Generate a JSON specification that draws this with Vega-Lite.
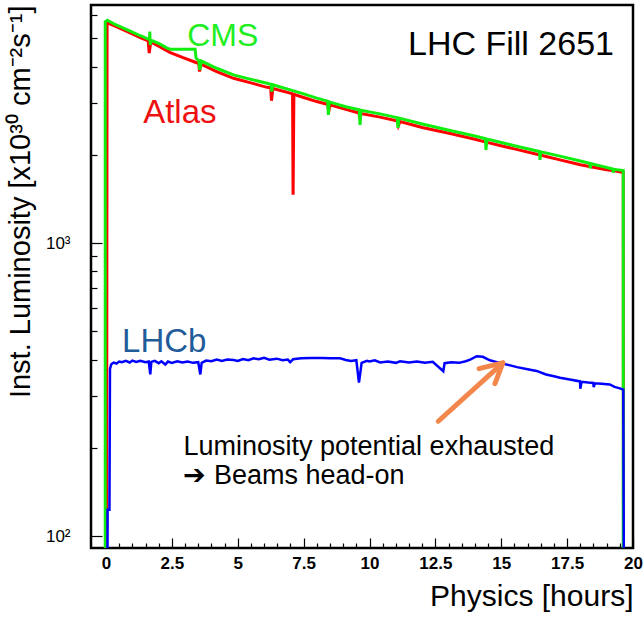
{
  "$schema": "https://vega.github.io/schema/vega-lite/v6.json",
  "width": 542,
  "height": 543,
  "autosize": "none",
  "padding": {"left": 91, "top": 5, "right": 11, "bottom": 70},
  "background": "white",
  "config": {
    "view": {"stroke": "black", "strokeWidth": 2.5},
    "font": "Liberation Sans"
  },
  "datasets": {
    "atlas": [
      {"h":0.02,"v":50},{"h":0.04,"v":5650},{"h":0.3,"v":5520},{"h":0.6,"v":5370},{"h":1.0,"v":5170},{"h":1.3,"v":5030},{"h":1.6,"v":4900},{"h":1.64,"v":4450},{"h":1.7,"v":4860},{"h":2.0,"v":4700},{"h":2.44,"v":4470},{"h":2.9,"v":4300},{"h":3.39,"v":4140},{"h":3.52,"v":4100},{"h":3.55,"v":3850},{"h":3.6,"v":4080},{"h":4.2,"v":3850},{"h":4.84,"v":3650},{"h":5.5,"v":3520},{"h":6.11,"v":3400},{"h":6.25,"v":3390},{"h":6.28,"v":3060},{"h":6.33,"v":3370},{"h":6.99,"v":3250},{"h":7.08,"v":3230},{"h":7.1,"v":1461},{"h":7.13,"v":3220},{"h":7.5,"v":3140},{"h":8.0,"v":3040},{"h":8.42,"v":2970},{"h":8.45,"v":2800},{"h":8.5,"v":2960},{"h":8.63,"v":2940},{"h":9.1,"v":2860},{"h":9.6,"v":2780},{"h":9.63,"v":2660},{"h":9.67,"v":2770},{"h":10.4,"v":2690},{"h":11.07,"v":2610},{"h":11.1,"v":2520},{"h":11.16,"v":2598},{"h":12.0,"v":2480},{"h":13.06,"v":2364},{"h":14.0,"v":2260},{"h":14.42,"v":2210},{"h":14.95,"v":2153},{"h":15.5,"v":2096},{"h":16.47,"v":1997},{"h":17.23,"v":1923},{"h":18.0,"v":1850},{"h":18.5,"v":1815},{"h":19.0,"v":1780},{"h":19.35,"v":1760},{"h":19.5,"v":1750},{"h":19.63,"v":1741},{"h":19.64,"v":50}
    ],
    "cms": [
      {"h":-0.03,"v":50},{"h":-0.03,"v":5694},{"h":0.05,"v":5760},{"h":0.3,"v":5600},{"h":0.6,"v":5450},{"h":1.0,"v":5250},{"h":1.3,"v":5100},{"h":1.65,"v":4950},{"h":1.66,"v":5267},{"h":1.68,"v":4742},{"h":1.7,"v":4930},{"h":2.0,"v":4800},{"h":2.3,"v":4640},{"h":2.44,"v":4585},{"h":3.38,"v":4585},{"h":3.42,"v":4272},{"h":3.52,"v":4200},{"h":3.56,"v":3900},{"h":3.62,"v":4180},{"h":4.2,"v":3950},{"h":4.84,"v":3750},{"h":5.5,"v":3620},{"h":6.11,"v":3512},{"h":6.27,"v":3480},{"h":6.29,"v":3290},{"h":6.33,"v":3470},{"h":6.99,"v":3332},{"h":7.5,"v":3230},{"h":8.0,"v":3122},{"h":8.41,"v":3050},{"h":8.44,"v":2738},{"h":8.47,"v":3030},{"h":8.63,"v":3002},{"h":9.1,"v":2920},{"h":9.61,"v":2850},{"h":9.64,"v":2532},{"h":9.68,"v":2840},{"h":10.4,"v":2760},{"h":11.05,"v":2680},{"h":11.08,"v":2473},{"h":11.12,"v":2670},{"h":12.0,"v":2550},{"h":13.06,"v":2423},{"h":14.0,"v":2320},{"h":14.4,"v":2270},{"h":14.42,"v":2080},{"h":14.46,"v":2265},{"h":15.5,"v":2149},{"h":16.45,"v":2052},{"h":16.47,"v":1923},{"h":16.5,"v":2049},{"h":17.23,"v":1980},{"h":18.0,"v":1905},{"h":18.35,"v":1872},{"h":18.38,"v":1800},{"h":18.4,"v":1868},{"h":19.0,"v":1810},{"h":19.23,"v":1790},{"h":19.25,"v":1740},{"h":19.28,"v":1785},{"h":19.63,"v":1768},{"h":19.63,"v":50}
    ],
    "lhcb": [
      {"h":0.05,"v":50},{"h":0.06,"v":123},{"h":0.13,"v":123},{"h":0.15,"v":372},{"h":0.2,"v":386},{"h":0.29,"v":391},{"h":0.4,"v":388},{"h":0.5,"v":394},{"h":0.6,"v":392},{"h":0.75,"v":396},{"h":0.9,"v":391},{"h":1.0,"v":397},{"h":1.15,"v":393},{"h":1.3,"v":396},{"h":1.5,"v":392},{"h":1.62,"v":394},{"h":1.68,"v":356},{"h":1.72,"v":393},{"h":1.85,"v":396},{"h":2.0,"v":389},{"h":2.1,"v":395},{"h":2.25,"v":385},{"h":2.35,"v":394},{"h":2.5,"v":390},{"h":2.7,"v":395},{"h":2.9,"v":391},{"h":3.1,"v":394},{"h":3.3,"v":390},{"h":3.5,"v":392},{"h":3.58,"v":356},{"h":3.63,"v":390},{"h":3.8,"v":397},{"h":4.0,"v":395},{"h":4.2,"v":400},{"h":4.4,"v":396},{"h":4.6,"v":400},{"h":4.84,"v":399},{"h":5.0,"v":396},{"h":5.2,"v":402},{"h":5.4,"v":398},{"h":5.6,"v":404},{"h":5.8,"v":401},{"h":6.0,"v":406},{"h":6.2,"v":400},{"h":6.48,"v":403},{"h":6.7,"v":398},{"h":6.9,"v":400},{"h":6.99,"v":392},{"h":7.1,"v":401},{"h":7.4,"v":404},{"h":7.8,"v":405},{"h":8.2,"v":405},{"h":8.5,"v":404},{"h":8.88,"v":404},{"h":9.1,"v":399},{"h":9.3,"v":396},{"h":9.5,"v":398},{"h":9.6,"v":334},{"h":9.65,"v":360},{"h":9.7,"v":390},{"h":9.9,"v":396},{"h":10.0,"v":394},{"h":10.2,"v":398},{"h":10.4,"v":391},{"h":10.7,"v":394},{"h":11.0,"v":390},{"h":11.16,"v":395},{"h":11.5,"v":391},{"h":11.8,"v":394},{"h":12.1,"v":390},{"h":12.4,"v":393},{"h":12.8,"v":365},{"h":12.85,"v":389},{"h":13.1,"v":392},{"h":13.4,"v":390},{"h":13.65,"v":395},{"h":13.82,"v":400},{"h":14.07,"v":411},{"h":14.3,"v":409},{"h":14.57,"v":398},{"h":14.8,"v":393},{"h":15.08,"v":387},{"h":15.3,"v":383},{"h":15.6,"v":377},{"h":16.0,"v":371},{"h":16.34,"v":366},{"h":16.7,"v":356},{"h":17.0,"v":351},{"h":17.23,"v":347},{"h":17.6,"v":342},{"h":17.99,"v":337},{"h":18.0,"v":318},{"h":18.05,"v":336},{"h":18.3,"v":334},{"h":18.49,"v":333},{"h":18.51,"v":322},{"h":18.55,"v":332},{"h":18.8,"v":331},{"h":19.12,"v":329},{"h":19.3,"v":323},{"h":19.5,"v":319},{"h":19.63,"v":316},{"h":19.66,"v":50}
    ],
    "arrow": [
      {"seg":"shaft","o":0,"h":12.61,"v":246.4},{"seg":"shaft","o":1,"h":15.06,"v":389.8},
      {"seg":"head","o":0,"h":14.16,"v":372.7},{"seg":"head","o":1,"h":15.06,"v":389.8},{"seg":"head","o":2,"h":14.76,"v":331.4}
    ]
  },
  "encoding": {
    "x": {"field": "h", "type": "quantitative",
      "scale": {"domain": [-0.57, 20], "nice": false, "zero": false},
      "axis": {
        "title": "Physics [hours]", "titleAnchor": "end", "titleFontSize": 30, "titleFontWeight": "normal", "titleColor": "black", "titlePadding": 5,
        "values": [0,0.5,1,1.5,2,2.5,3,3.5,4,4.5,5,5.5,6,6.5,7,7.5,8,8.5,9,9.5,10,10.5,11,11.5,12,12.5,13,13.5,14,14.5,15,15.5,16,16.5,17,17.5,18,18.5,19,19.5,20],
        "labelExpr": "datum.value % 2.5 == 0 ? toString(datum.value) : ''",
        "labelFontSize": 17, "labelFontWeight": "bold", "labelColor": "black", "labelFlush": false, "labelOverlap": false, "labelPadding": 17,
        "domain": false, "grid": false, "tickColor": "black", "tickWidth": 1.2,
        "tickSize": {"condition": {"test": "datum.value % 2.5 == 0", "value": -10}, "value": -5}
      }},
    "y": {"field": "v", "type": "quantitative",
      "scale": {"type": "log", "domain": [91, 6494], "nice": false},
      "axis": {
        "title": "Inst. Luminosity [x10³⁰ cm⁻²s⁻¹]", "titleAnchor": "end", "titleFontSize": 29, "titleFontWeight": "normal", "titleColor": "black", "titlePadding": 10,
        "values": [100,200,300,400,500,600,700,800,900,1000,2000,3000,4000,5000,6000],
        "labelExpr": "datum.value == 100 ? '10²' : datum.value == 1000 ? '10³' : ''",
        "labelFontSize": 17, "labelColor": "black", "labelOverlap": false, "labelPadding": 32,
        "domain": false, "grid": false, "tickColor": "black", "tickWidth": 1.2,
        "tickSize": {"condition": {"test": "datum.value == 100 || datum.value == 1000", "value": -11}, "value": -6}
      }}
  },
  "layer": [
    {"data": {"name": "atlas"}, "mark": {"type": "line", "color": "#ff0000", "strokeWidth": 3, "clip": true}},
    {"data": {"name": "cms"}, "mark": {"type": "line", "color": "#10ee10", "strokeWidth": 3, "clip": true}},
    {"data": {"name": "lhcb"}, "mark": {"type": "line", "color": "#0000ff", "strokeWidth": 2.5, "clip": true}},
    {"data": {"name": "arrow"}, "mark": {"type": "line", "color": "#f3874b", "strokeWidth": 5, "strokeCap": "round", "strokeJoin": "round"},
      "encoding": {"detail": {"field": "seg"}, "order": {"field": "o"}}},
    {"data": {"values": [{"h": 3.08, "v": 4707, "t": "CMS"}]}, "mark": {"type": "text", "align": "left", "baseline": "alphabetic", "fontSize": 32, "color": "#22ee22"}, "encoding": {"text": {"field": "t"}}},
    {"data": {"values": [{"h": 1.41, "v": 2572, "t": "Atlas"}]}, "mark": {"type": "text", "align": "left", "baseline": "alphabetic", "fontSize": 33, "color": "#ee1111"}, "encoding": {"text": {"field": "t"}}},
    {"data": {"values": [{"h": 0.61, "v": 423.6, "t": "LHCb"}]}, "mark": {"type": "text", "align": "left", "baseline": "alphabetic", "fontSize": 33, "color": "#1f5c99"}, "encoding": {"text": {"field": "t"}}},
    {"data": {"values": [{"h": 11.46, "v": 4385, "t": "LHC Fill 2651"}]}, "mark": {"type": "text", "align": "left", "baseline": "alphabetic", "fontSize": 34, "color": "black"}, "encoding": {"text": {"field": "t"}}},
    {"data": {"values": [{"h": 2.94, "v": 188.3, "t": "Luminosity potential exhausted"}, {"h": 2.94, "v": 149.9, "t": "➔ Beams head-on"}]}, "mark": {"type": "text", "align": "left", "baseline": "alphabetic", "fontSize": 27, "color": "black"}, "encoding": {"text": {"field": "t"}}}
  ]
}
